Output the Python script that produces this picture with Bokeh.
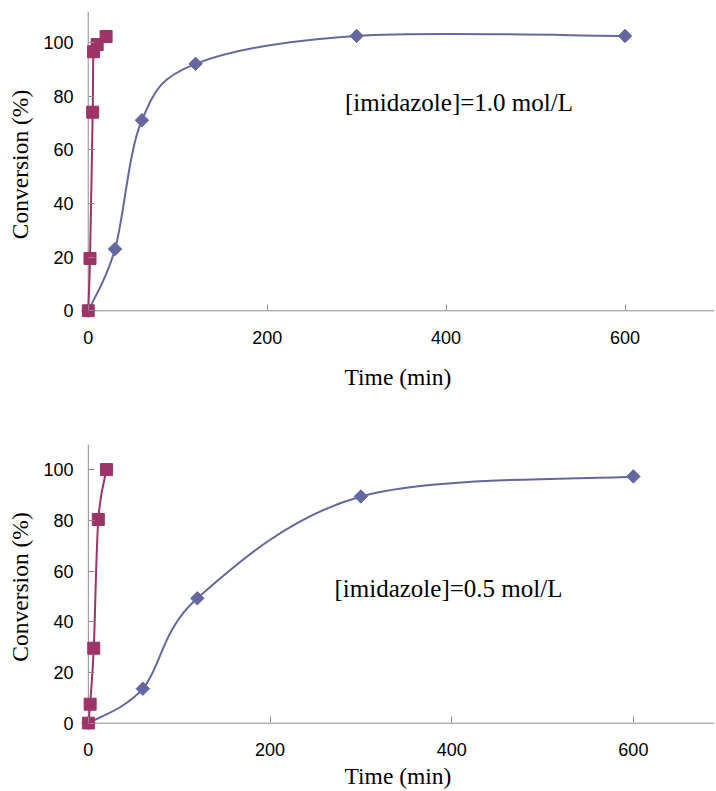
import numpy as np
from bokeh.plotting import figure
from bokeh.layouts import column
from bokeh.models import Range1d, FixedTicker, Span, Label, ColumnDataSource
from bokeh.embed import file_html
from bokeh.resources import INLINE

# ---- data ----
time_ticks = [0, 200, 400, 600]
conv_ticks = [0, 20, 40, 60, 80, 100]

top_fast_time = [0, 2, 5, 6, 10, 20]
top_fast_conv = [0, 19.5, 74, 96.5, 99.2, 102.2]
top_slow_time = [0, 30, 60, 120, 300, 600]
top_slow_conv = [0, 23, 71, 92, 102.4, 102.4]

bot_fast_time = [0, 2, 6, 11, 20]
bot_fast_conv = [0, 7.5, 29.6, 80.4, 100.1]
bot_slow_time = [0, 60, 120, 300, 600]
bot_slow_conv = [0, 13.6, 49.3, 89.5, 97.4]

panel_labels = ["[imidazole]=1.0 mol/L", "[imidazole]=0.5 mol/L"]

BLUE = "#65679F"
RED = "#9D3366"
AXIS = "#8C8C8C"


def smooth_source(xs, ys):
    """Bezier control points (Catmull-Rom style) for a smoothed line through the points."""
    x = np.asarray(xs, float)
    y = np.asarray(ys, float)
    n = len(x)
    xp = np.concatenate([[x[0]], x, [x[-1]]])
    yp = np.concatenate([[y[0]], y, [y[-1]]])
    cx0 = xp[1:n] + (xp[2:n + 1] - xp[0:n - 1]) / 6
    cy0 = yp[1:n] + (yp[2:n + 1] - yp[0:n - 1]) / 6
    cx1 = xp[2:n + 1] - (xp[3:n + 2] - xp[1:n]) / 6
    cy1 = yp[2:n + 1] - (yp[3:n + 2] - yp[1:n]) / 6
    return ColumnDataSource(dict(x0=x[:-1], y0=y[:-1], x1=x[1:], y1=y[1:],
                                 cx0=cx0, cy0=cy0, cx1=cx1, cy1=cy1))


def make_fig(height, x_end, y_end, mbt, mbb, mbr, fast, slow, label, lx, ly,
             xl_standoff, xal_standoff):
    p = figure(width=716, height=height,
               x_range=Range1d(-7.5, x_end), y_range=Range1d(-2.5, y_end),
               output_backend="svg", toolbar_location=None,
               min_border_left=81, min_border_right=mbr,
               min_border_top=mbt, min_border_bottom=mbb)
    p.outline_line_color = None
    p.grid.visible = False
    p.xaxis.ticker = FixedTicker(ticks=time_ticks)
    p.yaxis.ticker = FixedTicker(ticks=conv_ticks)
    p.xaxis.axis_label = "Time (min)"
    p.yaxis.axis_label = "Conversion (%)"
    for ax in (p.xaxis[0], p.yaxis[0]):
        ax.axis_line_color = None
        ax.major_tick_line_color = AXIS
        ax.major_tick_in = 13
        ax.major_tick_out = -7
        ax.minor_tick_line_color = None
        ax.major_label_text_font = "Liberation Sans"
        ax.major_label_text_font_size = "18px"
        ax.major_label_text_color = "black"
        ax.axis_label_text_font = "Liberation Serif"
        ax.axis_label_text_font_style = "normal"
        ax.axis_label_text_font_size = "23.5px"
        ax.axis_label_text_color = "black"
    p.xaxis.major_label_standoff = xl_standoff
    p.xaxis.axis_label_standoff = xal_standoff
    p.yaxis.major_label_standoff = 8
    p.yaxis.axis_label_standoff = 7

    p.add_layout(Span(location=0, dimension="height", line_color=AXIS, line_width=1, level="underlay"))
    p.add_layout(Span(location=0, dimension="width", line_color=AXIS, line_width=1, level="underlay"))

    for (t, c), col, marker, size, angle in ((slow, BLUE, "square", 9.5, np.pi / 4),
                                             (fast, RED, "square", 12, 0)):
        src = smooth_source(t, c)
        p.bezier(x0="x0", y0="y0", x1="x1", y1="y1", cx0="cx0", cy0="cy0",
                 cx1="cx1", cy1="cy1", source=src, line_color=col, line_width=2)
        p.scatter(t, c, marker=marker, size=size, angle=angle,
                  fill_color=col, line_color=col)

    p.add_layout(Label(x=lx, y=ly, text=label, text_font="Liberation Serif",
                       text_font_size="25px", text_baseline="middle", text_color="black"))
    return p


p1 = make_fig(395, 700, 111.5, 11, 78, 2,
              (top_fast_time, top_fast_conv), (top_slow_time, top_slow_conv),
              panel_labels[0], 287, 77.6, 13, 17)
p2 = make_fig(396, 689.3, 110, 49, 60, 0,
              (bot_fast_time, bot_fast_conv), (bot_slow_time, bot_slow_conv),
              panel_labels[1], 271, 53, 13, 4)

layout = column(p1, p2, spacing=0)
open("out.html", "w").write(file_html(layout, INLINE))
